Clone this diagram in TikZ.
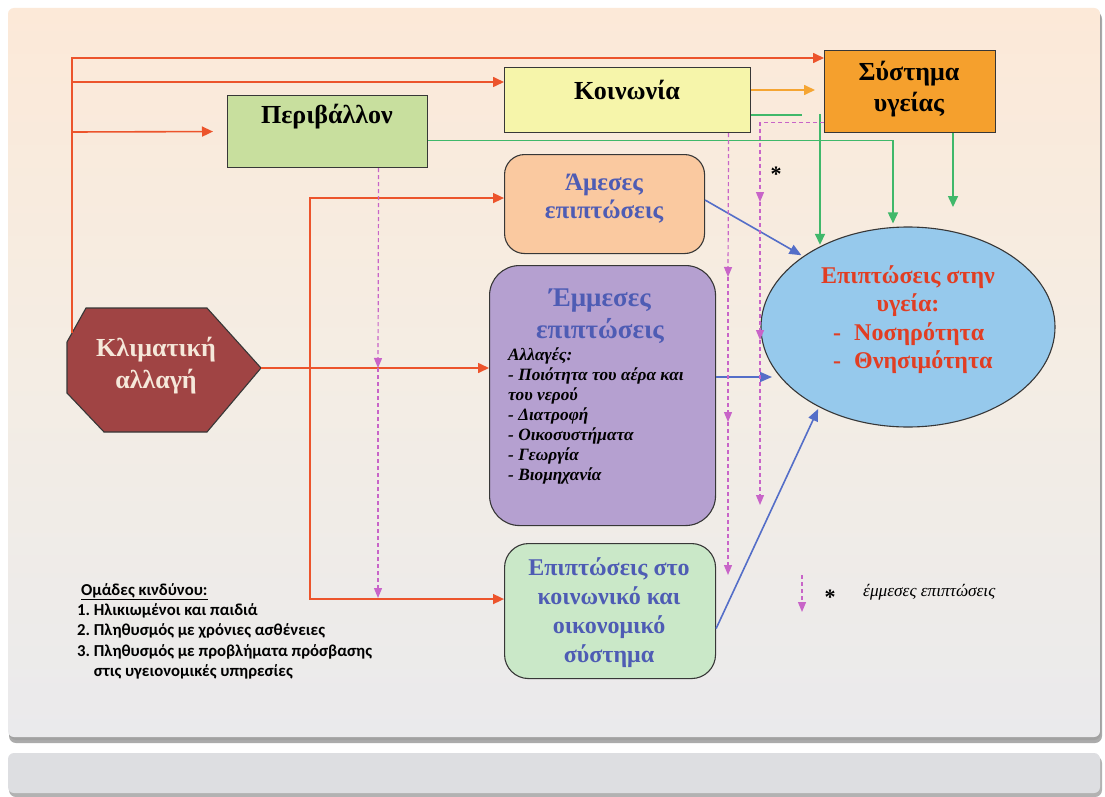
\documentclass[tikz,border=0pt]{standalone}
\usepackage{fontspec}
\setmainfont{Liberation Serif}
\newfontfamily\carl{Carlito}
\usetikzlibrary{arrows.meta,calc,shapes.geometric}
\definecolor{bord}{RGB}{55,55,55}
\definecolor{envc}{RGB}{200,223,158}
\definecolor{koinc}{RGB}{246,245,170}
\definecolor{sysc}{RGB}{245,160,45}
\definecolor{amesc}{RGB}{250,201,160}
\definecolor{emmc}{RGB}{181,160,208}
\definecolor{socc}{RGB}{202,232,200}
\definecolor{heac}{RGB}{150,201,236}
\definecolor{hexc}{RGB}{160,68,68}
\definecolor{hextxt}{RGB}{245,232,218}
\definecolor{ttlblue}{RGB}{78,92,180}
\definecolor{heared}{RGB}{225,62,35}
\definecolor{redl}{RGB}{236,84,44}
\definecolor{greenl}{RGB}{64,184,106}
\definecolor{orl}{RGB}{245,165,50}
\definecolor{pinkl}{RGB}{200,100,200}
\definecolor{bluel}{RGB}{84,110,200}
\definecolor{bgtop}{RGB}{252,233,216}
\definecolor{bgmid}{RGB}{244,237,228}
\definecolor{bgbot}{RGB}{234,234,236}
\definecolor{panel2}{RGB}{221,222,225}
\begin{document}
\begin{tikzpicture}[x=1pt,y=-1pt,
  box/.style={draw=bord, line width=1.1pt, inner sep=0pt, anchor=north west},
  redar/.style={draw=redl, line width=1.6pt, -{Triangle[length=11pt,width=10pt]}},
  orar/.style={draw=orl, line width=1.6pt, -{Triangle[length=11pt,width=10pt]}},
  grar/.style={draw=greenl, line width=1.6pt, -{Triangle[length=11pt,width=10pt]}},
  grln/.style={draw=greenl, line width=1.6pt},
  blar/.style={draw=bluel, line width=1.6pt, -{Triangle[length=12pt,width=10pt]}},
  pkar/.style={draw=pinkl, line width=1.2pt, dash pattern=on 4pt off 3pt, -{Triangle[length=10pt,width=8pt]}},
  blkttl/.style={font=\fontsize{26}{32}\bfseries\selectfont, align=center, inner sep=0pt},
  bluettl/.style={text=ttlblue, align=center, inner sep=0pt}
]
\useasboundingbox (0,0) rectangle (1105,797);
\fill[white] (0,0) rectangle (1105,797);
% panels
\fill[black!60, opacity=0.55, rounded corners=7pt] (9,12) rectangle (1102,743);
\fill[black!40, opacity=0.5, rounded corners=7pt] (9,10) rectangle (1101,740);
\shade[top color=bgtop, bottom color=bgbot, middle color=bgmid, rounded corners=6pt] (8,8) rectangle (1100,737);
\fill[black!60, opacity=0.5, rounded corners=7pt] (9,756) rectangle (1102,797);
\fill[panel2, rounded corners=6pt] (8,753) rectangle (1100,793);

% boxes
\node[box, fill=envc, minimum width=200pt, minimum height=72pt] (env) at (227,95) {};
\node[box, fill=koinc, minimum width=246pt, minimum height=65pt] (koin) at (504,67) {};
\node[box, fill=sysc, minimum width=171pt, minimum height=82pt] (sys) at (824,50) {};
\node[box, rounded corners=20pt, fill=amesc, minimum width=200pt, minimum height=99pt] (ames) at (504,154) {};
\node[box, rounded corners=30pt, fill=emmc, minimum width=226pt, minimum height=260pt] (emm) at (489,265) {};
\node[box, rounded corners=24pt, fill=socc, minimum width=211pt, minimum height=135pt] (soc) at (504,543) {};
\node[draw=bord, line width=1.1pt, ellipse, fill=heac, minimum width=294pt, minimum height=200pt, inner sep=0pt] (hea) at (908,327) {};
\draw[draw=bord, line width=1.1pt, fill=hexc] (86,308) -- (207,308) -- (261,368) -- (207,432) -- (104,432) -- (67,393) -- (67,342) -- cycle;

% texts
\node[blkttl] (envt) at (327,117) {Περιβάλλον};
\node[blkttl] (koint) at (627,90) {Κοινωνία};
\node[blkttl, font=\fontsize{26}{31}\bfseries\selectfont] (syst) at (909,89) {Σύστημα\\υγείας};
\node[blkttl, text=hextxt, font=\fontsize{26}{32}\bfseries\selectfont] (climt) at (156,366) {Κλιματική\\αλλαγή};
\node[bluettl, font=\fontsize{25}{28}\bfseries\selectfont] (amest) at (604,199) {Άμεσες\\επιπτώσεις};
\node[bluettl, font=\fontsize{27}{32}\bfseries\selectfont] (emmt) at (600,316) {Έμμεσες\\επιπτώσεις};
\node[anchor=north west, align=left, inner sep=0pt, font=\fontsize{17.3}{20}\bfseries\itshape\selectfont] (emml) at (508,348)
 {Αλλαγές:\\- Ποιότητα του αέρα και\\του νερού\\- Διατροφή\\- Οικοσυστήματα\\- Γεωργία\\- Βιομηχανία};
\node[bluettl, font=\fontsize{24}{29}\bfseries\selectfont] (soct) at (609,613) {Επιπτώσεις στο\\κοινωνικό και\\οικονομικό\\σύστημα};
\node[text=heared, align=center, inner sep=0pt, font=\fontsize{24}{28.5}\bfseries\selectfont] (heat) at (908,291) {Επιπτώσεις στην\\υγεία:};
\node[text=heared, anchor=west, align=left, inner sep=0pt, font=\fontsize{24}{28.5}\bfseries\selectfont] (heal) at (833,348) {-\hspace{13pt}Νοσηρότητα\\-\hspace{13pt}Θνησιμότητα};
\node[font=\fontsize{22}{22}\bfseries\selectfont, inner sep=0pt] (star1) at (776,174) {*};
\node[font=\fontsize{22}{22}\bfseries\selectfont, inner sep=0pt] (star2) at (830,597) {*};
\node[anchor=west, inner sep=0pt, font=\fontsize{17.3}{17}\itshape\selectfont] (legt) at (863,592) {έμμεσες επιπτώσεις};
\node[anchor=north west, align=left, inner sep=0pt, font=\carl\fontsize{16.7}{20.3}\bfseries\selectfont] (risk) at (77,583)
 {\hspace*{4pt}\underline{Ομάδες κινδύνου:}\\1.~Ηλικιωμένοι και παιδιά\\2.~Πληθυσμός με χρόνιες ασθένειες\\3.~Πληθυσμός με προβλήματα πρόσβασης\\\phantom{3.~}στις υγειονομικές υπηρεσίες};

% red connectors
\coordinate (hexTL) at (72,333);
\coordinate (hexR) at (261,368);
\coordinate (b2) at (72,82);
\coordinate (b3) at (72,132);
\coordinate (envin) at ([xshift=-14pt]env.west);
\coordinate (jn) at (310,368);
\draw[redar] (hexTL) |- ([yshift=-8pt]sys.north west);
\draw[redar] (b2) -- (koin.west |- b2);
\draw[redar] (b3) -- (envin);
\draw[redar] (hexR) -- (emm.west |- hexR);
\draw[redar] (jn) |- ([yshift=6pt]ames.west);
\draw[redar] (jn) |- ([yshift=12pt]soc.west);

% orange / green
\coordinate (orE) at (815,90);
\draw[orar] (koin.east |- orE) -- (orE);
\coordinate (gE) at (802,115);
\draw[grln] (koin.east |- gE) -- (gE);
\coordinate (gV) at (820,114);
\draw[grar, shorten >=1pt] (gV) -- (gV |- hea.137.7);
\draw[grar] ([yshift=-9pt]env.east) -| ([xshift=-15pt,yshift=3pt]hea.north);
\coordinate (gS) at (953,207);
\draw[grar] (sys.south -| gS) -- (gS);

% blue
\draw[blar, shorten >=2pt] ([yshift=4pt]ames.east) -- (hea.146);
\coordinate (bl2) at (772,377);
\draw[blar] (emm.east |- bl2) -- (bl2);
\draw[blar, shorten >=2pt] ([yshift=-17.5pt]soc.east) -- (hea.222);

% pink dashed
\coordinate (p1a) at ([xshift=51pt]env.south);
\coordinate (p1m) at (378,368);
\coordinate (p1b) at (378,598);
\draw[pkar] (p1a) -- (p1m);
\draw[pkar] (p1m) -- (p1b);
\coordinate (p2a) at ([xshift=101pt]koin.south);
\coordinate (p2m1) at (728,277);
\coordinate (p2m2) at (728,422);
\coordinate (p2b) at (728,575);
\draw[pkar] (p2a) -- (p2m1);
\draw[pkar] (p2m1) -- (p2m2);
\draw[pkar] (p2m2) -- (p2b);
\coordinate (p3a) at ([yshift=-31pt]sys.west);
\coordinate (p3m1) at (760,202);
\coordinate (p3m2) at (760,340);
\coordinate (p3b) at (760,505);
\draw[pkar] (p3a) -| (p3m1);
\draw[pkar] (p3m1) -- (p3m2);
\draw[pkar] (p3m2) -- (p3b);
\coordinate (lgA) at (802,575);
\coordinate (lgB) at (802,612);
\draw[pkar] (lgA) -- (lgB);
\end{tikzpicture}
\end{document}
